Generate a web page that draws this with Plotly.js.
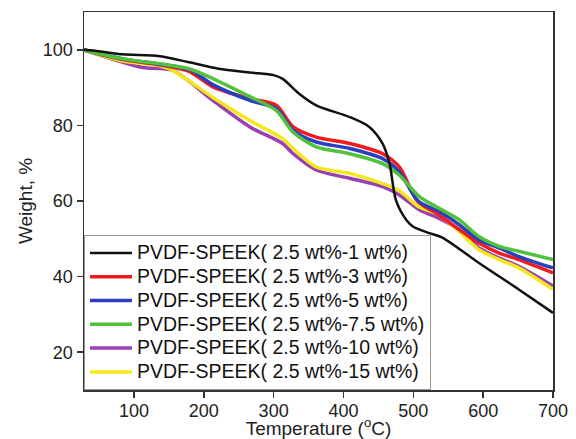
<!DOCTYPE html>
<html>
<head>
<meta charset="utf-8">
<script src="https://cdn.plot.ly/plotly-3.0.1.min.js"></script>
<style>html,body{margin:0;padding:0;background:#fff;}#chart{width:576px;height:439px;}</style>
</head>
<body>
<div id="chart"></div>
<script>
// Series names
const names = [
  "PVDF-SPEEK( 2.5 wt%-1 wt%)",
  "PVDF-SPEEK( 2.5 wt%-3 wt%)",
  "PVDF-SPEEK( 2.5 wt%-5 wt%)",
  "PVDF-SPEEK( 2.5 wt%-7.5 wt%)",
  "PVDF-SPEEK( 2.5 wt%-10 wt%)",
  "PVDF-SPEEK( 2.5 wt%-15 wt%)"
];

// 1 wt% (black)
const tBlack = [28, 50, 84, 137, 179, 221, 266, 300, 313, 337, 361, 409, 437, 456, 466, 475, 490, 500, 523, 541, 594, 651, 700];
const wBlack = [100, 99.6, 98.8, 98.3, 96.7, 95.0, 94.0, 93.3, 92.3, 88.3, 85.3, 82.2, 79.6, 75.2, 69.9, 60.3, 55.0, 53.2, 51.5, 50.4, 43.6, 36.6, 30.4];

// 3 wt% (red)
const tRed = [28, 84, 137, 179, 213, 266, 304, 328, 361, 409, 456, 480, 506, 537, 566, 594, 623, 651, 700];
const wRed = [100, 97.4, 96.0, 94.3, 90.2, 87.1, 85.3, 79.6, 76.9, 75.2, 72.5, 69.0, 60.0, 56.3, 52.4, 48.9, 46.2, 44.5, 41.0];

// 5 wt% (blue)
const tBlue = [28, 84, 137, 179, 213, 266, 304, 328, 361, 409, 456, 480, 507, 537, 566, 594, 623, 651, 700];
const wBlue = [100, 97.6, 96.2, 94.8, 90.8, 86.6, 84.4, 78.7, 75.6, 73.9, 71.2, 67.7, 60.0, 57.2, 53.7, 49.7, 47.6, 45.3, 42.3];

// 7.5 wt% (green)
const tGreen = [28, 84, 137, 179, 213, 266, 304, 328, 361, 409, 456, 480, 509, 537, 566, 594, 623, 651, 700];
const wGreen = [100, 97.6, 96.3, 95.0, 92.4, 87.6, 83.9, 78.2, 74.3, 72.5, 69.9, 66.8, 61.1, 58.1, 55.0, 50.6, 48.0, 46.7, 44.5];

// 10 wt% (purple)
const tPurple = [28, 70, 113, 156, 213, 266, 313, 328, 361, 409, 456, 480, 509, 537, 566, 594, 623, 651, 700];
const wPurple = [100, 97.5, 95.3, 94.5, 86.6, 79.6, 75.2, 72.5, 68.2, 66.0, 63.8, 61.6, 57.6, 55.4, 52.4, 47.6, 44.9, 42.7, 37.5];

// 15 wt% (yellow)
const tYellow = [28, 84, 137, 156, 213, 266, 313, 328, 361, 409, 456, 480, 506, 537, 566, 594, 623, 651, 700];
const wYellow = [100, 97.0, 95.8, 94.5, 87.4, 81.3, 76.5, 73.9, 69.0, 67.3, 64.6, 62.7, 58.7, 56.3, 51.9, 47.1, 44.5, 42.3, 36.6];

const xTicks = [100, 200, 300, 400, 500, 600, 700];
const yTicks = [20, 40, 60, 80, 100];

const colors = ["#111111", "#f01c1c", "#2a3fc0", "#52c23c", "#9a3fb4", "#f5e81a"];
const widths = [2.5, 3.5, 3.5, 3.5, 3.5, 3.5];

const series = [
  [tBlack, wBlack], [tRed, wRed], [tBlue, wBlue],
  [tGreen, wGreen], [tPurple, wPurple], [tYellow, wYellow]
];
// drawing order (bottom to top)
const drawOrder = [4, 5, 1, 2, 3, 0];

const traces = drawOrder.map(i => ({
  x: series[i][0], y: series[i][1],
  type: "scatter", mode: "lines",
  name: '<span style="font-size:19.5px">' + names[i] + '</span>',
  legendrank: i + 1,
  line: {color: colors[i], width: widths[i], shape: "spline", smoothing: 0.8}
}));

const fam = "Liberation Sans, Arial, sans-serif";

const layout = {
  width: 576, height: 439,
  margin: {l: 84, r: 23, t: 12, b: 49},
  paper_bgcolor: "#fff", plot_bgcolor: "#fff",
  font: {family: fam, size: 18, color: "#222"},
  showlegend: true,
  legend: {
    x: 0, y: 0, xanchor: "left", yanchor: "bottom",
    bgcolor: "#fff", bordercolor: "#999", borderwidth: 1,
    font: {family: fam, size: 16, color: "#111"},
    itemwidth: 42, tracegroupgap: 0
  },
  xaxis: {
    range: [28.5, 700], tickvals: xTicks, ticks: "outside", ticklen: 6, tickwidth: 1.5,
    tickcolor: "#333", showline: true, mirror: true, linecolor: "#333", linewidth: 1.5,
    showgrid: false, zeroline: false, automargin: false, ticklabelstandoff: -2,
    tickfont: {family: fam, size: 18, color: "#222"},
    title: {text: "Temperature (<sup>o</sup>C)", standoff: 1, font: {family: fam, size: 19, color: "#222"}}
  },
  yaxis: {
    range: [10, 110], tickvals: yTicks, ticks: "outside", ticklen: 6, tickwidth: 1.5,
    tickcolor: "#333", showline: true, mirror: true, linecolor: "#333", linewidth: 1.5,
    showgrid: false, zeroline: false, automargin: false,
    tickfont: {family: fam, size: 18, color: "#222"},
    title: {text: "Weight, %", standoff: 5, font: {family: fam, size: 19, color: "#222"}}
  }
};

Plotly.newPlot("chart", traces, layout, {staticPlot: true, displayModeBar: false});
</script>
</body>
</html>
